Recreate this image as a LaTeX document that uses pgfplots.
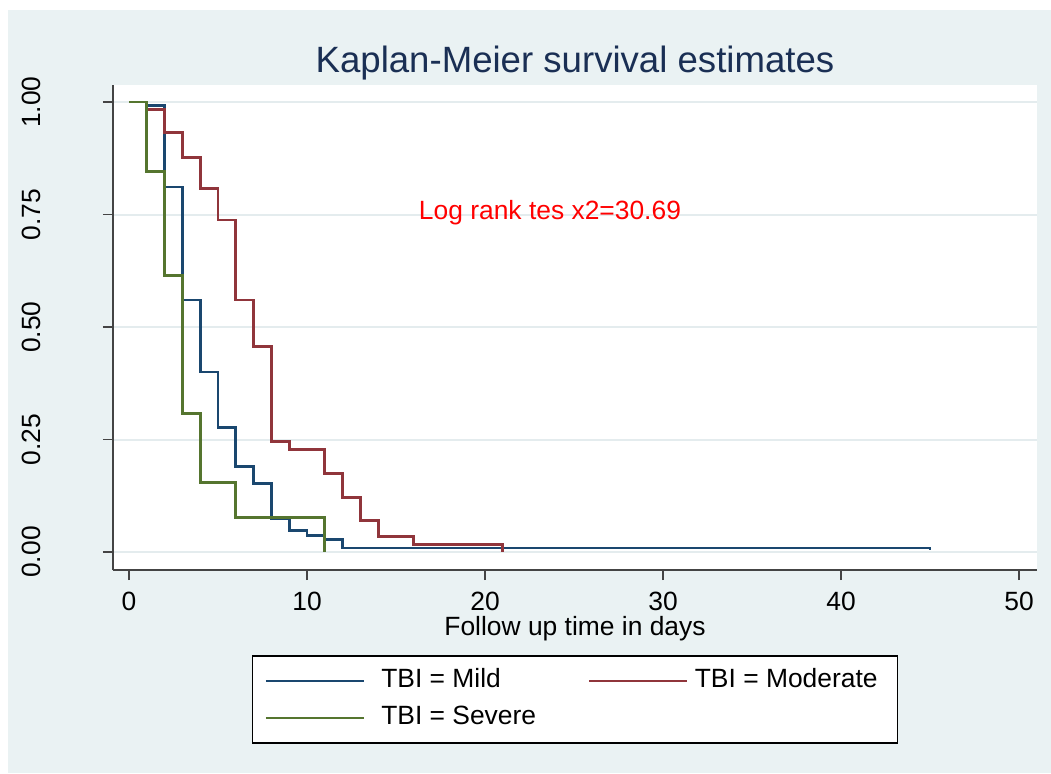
\documentclass[border=0pt]{standalone}
\usepackage{fontspec}
\setmainfont{Liberation Sans}
\usepackage{pgfplots}
\pgfplotsset{compat=1.18}
\definecolor{bg}{HTML}{EAF2F3}
\definecolor{gridc}{HTML}{E4ECEE}
\definecolor{mild}{HTML}{1A476F}
\definecolor{moder}{HTML}{90353B}
\definecolor{sev}{HTML}{55752F}
\definecolor{ttl}{HTML}{1A2F54}
\definecolor{axc}{HTML}{444444}
\newcommand\lab{\fontsize{13.2}{15}\selectfont}

\begin{document}
\begin{tikzpicture}
\useasboundingbox (0pt,0pt) rectangle (525.5pt,386.5pt);
\fill[bg] (4pt,0pt) rectangle (525.5pt,381.5pt);
\begin{axis}[
  at={(56.5pt,101.5pt)}, anchor=south west,
  scale only axis, width=462pt, height=242.5pt,
  xmin=-0.899, xmax=51.01, ymin=-0.04, ymax=1.0378,
  axis x line*=bottom, axis y line*=left,
  axis line style={draw=axc, line width=0.8pt},
  axis background/.style={fill=white},
  xtick={0,10,20,30,40,50},
  ytick={0,0.25,0.5,0.75,1},
  /pgf/number format/assume math mode=true,
  tick align=outside, major tick length=5pt,
  tick style={draw=axc, line width=0.6pt},
  ymajorgrids, grid style={draw=gridc, line width=1pt},
  tick label style={font=\lab, text=black},
  xticklabel style={inner sep=0pt, anchor=north, yshift=-6pt},
  yticklabel style={/pgf/number format/fixed, /pgf/number format/fixed zerofill,
    /pgf/number format/precision=2,
    xshift=-31pt, rotate=90, anchor=south, inner sep=0pt},
  title={Kaplan-Meier survival estimates},
  title style={at={(axis description cs:0.5,1)}, anchor=base, yshift=0.5pt,
    inner sep=0pt, font=\fontsize{18.3}{22}\selectfont, text=ttl},
  xlabel={Follow up time in days},
  xlabel style={at={(axis description cs:0.5,0)}, anchor=base, yshift=-32.5pt,
    inner sep=0pt, font=\lab},
  legend columns=2,
  legend cell align=left,
  legend image code/.code={\draw[#1] (0pt,0pt) -- (49pt,0pt);},
  legend style={at={(0.5,-0.267)}, anchor=center, draw=black, line width=0.8pt,
    fill=white, inner xsep=6pt, inner ysep=6.5pt, row sep=6.5pt,
    font=\lab, nodes={inner sep=0pt, text height=9pt, text depth=3pt},
    /tikz/column 1/.style={column sep=8pt},
    /tikz/column 2/.style={column sep=26pt},
    /tikz/column 3/.style={column sep=3pt}},
]
\addplot[const plot, mild, line width=1.4pt] coordinates {
  (0,1) (1,0.992) (2,0.811) (3,0.56) (4,0.40) (5,0.276) (6,0.19) (7,0.153)
  (8,0.075) (9,0.047) (10,0.037) (11,0.028) (12,0.009) (45,0.005)
};
\addlegendentry{TBI = Mild}
\addplot[const plot, moder, line width=1.4pt] coordinates {
  (0,1) (1,0.984) (2,0.932) (3,0.877) (4,0.807) (5,0.738) (6,0.56) (7,0.456)
  (8,0.245) (9,0.227) (11,0.175) (12,0.122) (13,0.07) (14,0.034) (16,0.016) (21,0)
};
\addlegendentry{TBI = Moderate\kern4pt}
\addplot[const plot, sev, line width=1.4pt] coordinates {
  (0,1) (1,0.846) (2,0.615) (3,0.308) (4,0.154) (6,0.077) (11,0)
};
\addlegendentry{TBI = Severe}
\node[anchor=base, inner sep=0pt, text=red, font=\lab] at (axis cs:23.65,0.74) {Log rank tes x2=30.69};
\end{axis}
\end{tikzpicture}
\end{document}
